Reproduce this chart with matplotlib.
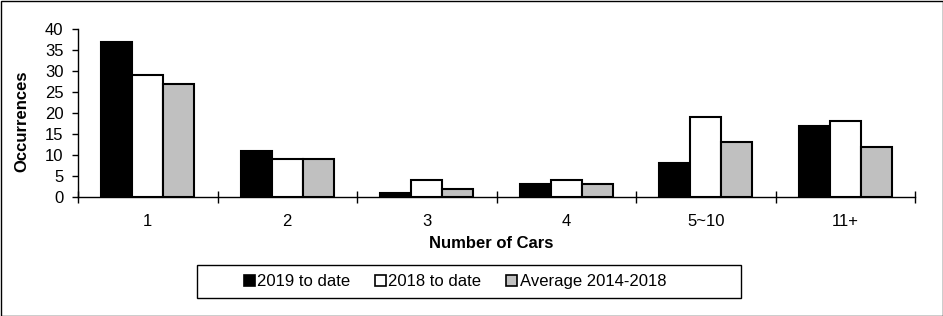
import matplotlib
matplotlib.use("Agg")
import matplotlib.pyplot as plt
import numpy as np
from matplotlib.patches import Rectangle

plt.rcParams['font.family'] = ['Liberation Sans', 'DejaVu Sans']

categories = ["1", "2", "3", "4", "5~10", "11+"]
s2019 = [37, 11, 1, 3, 8, 17]
s2018 = [29, 9, 4, 4, 19, 18]
avg = [27, 9, 2, 3, 13, 12]
series_names = ["2019 to date", "2018 to date", "Average 2014-2018"]
colors = ["#000000", "#FFFFFF", "#C0C0C0"]

FS = 12
W, H = 943, 316
fig = plt.figure(figsize=(W/100, H/100), dpi=100)
ax = fig.add_axes([78/W, 1-197/H, (915-78)/W, (197-29)/H])

x = np.arange(len(categories))
bw = 0.222
for i, (vals, c, name) in enumerate(zip([s2019, s2018, avg], colors, series_names)):
    ax.bar(x + (i-1)*bw, vals, width=bw, color=c, edgecolor='black', linewidth=1.5, label=name)

ax.set_xlim(-0.5, len(categories)-0.5)
ax.set_ylim(0, 40)
ax.set_yticks(range(0, 41, 5))
ax.set_xticks(x)
ax.set_xticklabels(categories)
ax.set_xticks(np.arange(-0.5, len(categories), 1), minor=True)
ax.tick_params(axis='x', which='major', length=0, pad=12, labelsize=FS)
ax.tick_params(axis='x', which='minor', length=8, direction='inout', width=1)
ax.tick_params(axis='y', length=4.5, direction='out', width=1, labelsize=FS, pad=6)
for s in ['top', 'right']:
    ax.spines[s].set_visible(False)
for s in ['left', 'bottom']:
    ax.spines[s].set_linewidth(1)

fig.text(491/W, 1-243/H, "Number of Cars", fontsize=FS, fontweight='bold', ha='center', va='center')
fig.text(22/W, 1-121/H, "Occurrences", fontsize=FS, fontweight='bold', ha='center', va='center', rotation=90)

handles, labels = ax.get_legend_handles_labels()
leg = fig.legend(handles, labels, loc='center', bbox_to_anchor=(455/W, 1-281.5/H),
                 ncol=3, frameon=False,
                 fontsize=FS, handlelength=0.65, handleheight=0.65, handletextpad=0.15,
                 columnspacing=1.5, borderpad=0.3)
for h in leg.legend_handles:
    h.set_linewidth(1.2)

fig.patches.append(Rectangle((197/W, 1-298/H), (741-197)/W, (298-265)/H, transform=fig.transFigure,
                             fill=False, edgecolor='black', linewidth=1))
fig.patches.append(Rectangle((0.5/W, 0.5/H), 1-1/W, 1-1/H, transform=fig.transFigure,
                             fill=False, edgecolor='black', linewidth=1))
fig.savefig("out.png", dpi=100)
